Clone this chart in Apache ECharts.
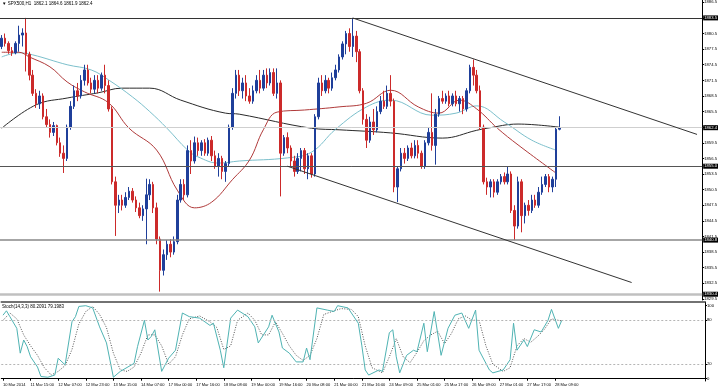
<!DOCTYPE html>
<html><head><meta charset="utf-8">
<script src="https://cdn.jsdelivr.net/npm/echarts@6/dist/echarts.min.js"></script>
<style>html,body{margin:0;padding:0;background:#fff}#c{width:720px;height:388px}</style>
</head><body><div id="c"></div>
<script>
const xTickLabels = ['10 Mar 2014','11 Mar 15:00','12 Mar 07:00','12 Mar 23:00','13 Mar 15:00','14 Mar 07:00','17 Mar 00:00','17 Mar 16:00','18 Mar 08:00','19 Mar 00:00','19 Mar 16:00','20 Mar 08:00','21 Mar 00:00','21 Mar 16:00','24 Mar 09:00','25 Mar 01:00','25 Mar 17:00','26 Mar 09:00','27 Mar 01:00','27 Mar 17:00','28 Mar 09:00'];
const priceTicks = [1829.5,1832.5,1835.5,1838.5,1841.5,1844.5,1847.5,1850.5,1853.5,1856.5,1859.5,1862.5,1865.5,1868.5,1871.5,1874.5,1877.5,1880.5,1883.5,1886.5];
const stochTicks = [0,20,80,100];
const stochLevels = [20,80];
const hLevels = [1883.5,1855.0,1840.8,1830.4];
const bidPrice = 1862.4;
const channelUpper = [[102,1883.48],[202,1861.11]];
const channelLower = [[83,1855.0],[183,1832.65]];
// candles: [open, close, low, high]
const candles = [
[1878.0,1879.6,1877.5,1880.2],[1879.6,1878.6,1878.0,1880.5],[1878.6,1877.2,1876.6,1879.0],[1877.2,1876.8,1876.2,1877.9],
[1876.8,1878.6,1876.5,1879.0],[1878.6,1880.2,1877.0,1882.0],[1880.2,1880.6,1878.0,1881.5],[1880.6,1876.5,1873.2,1883.5],
[1876.5,1872.5,1871.5,1877.0],[1872.5,1869.0,1868.5,1873.5],[1869.0,1867.0,1866.2,1869.8],[1867.0,1868.5,1866.0,1869.5],
[1868.5,1864.5,1864.0,1869.0],[1864.5,1863.0,1862.5,1866.0],[1863.0,1861.5,1860.5,1864.0],[1861.5,1862.8,1860.8,1863.5],
[1862.8,1859.5,1859.0,1863.0],[1859.5,1857.5,1856.8,1860.5],[1857.5,1856.5,1853.7,1859.0],[1856.5,1862.5,1856.0,1863.0],
[1862.5,1866.5,1862.0,1867.5],[1866.5,1869.5,1866.0,1870.5],[1869.5,1868.5,1867.5,1871.0],[1868.5,1871.5,1868.0,1872.5],
[1871.5,1873.5,1870.5,1874.5],[1873.5,1871.0,1870.5,1874.5],[1871.0,1869.8,1869.0,1872.0],[1869.8,1871.5,1869.0,1872.5],
[1871.5,1870.0,1869.0,1872.5],[1870.0,1872.5,1869.5,1873.0],[1872.5,1870.5,1869.0,1874.5],[1870.5,1866.0,1865.5,1871.5],
[1866.0,1852.0,1851.5,1866.5],[1852.0,1847.5,1841.6,1853.0],[1847.5,1848.5,1846.0,1849.5],[1848.5,1847.5,1846.5,1849.5],
[1847.5,1849.0,1847.0,1850.0],[1849.0,1850.2,1848.5,1851.0],[1850.2,1848.5,1848.0,1850.8],[1848.5,1847.0,1846.2,1849.2],
[1847.0,1845.5,1845.0,1848.0],[1845.5,1846.8,1844.5,1847.5],[1846.8,1849.5,1840.0,1852.6],[1849.5,1851.5,1848.5,1852.5],
[1851.5,1847.0,1846.0,1852.0],[1847.0,1841.0,1840.0,1848.0],[1841.0,1835.0,1830.9,1841.5],[1835.0,1838.0,1834.0,1839.0],
[1838.0,1840.0,1837.0,1840.8],[1840.0,1838.5,1837.5,1841.0],[1838.5,1840.5,1838.0,1841.5],[1840.5,1848.5,1840.0,1849.5],
[1848.5,1851.5,1848.0,1852.5],[1851.5,1849.5,1848.5,1852.5],[1849.5,1858.0,1849.0,1859.0],[1858.0,1856.0,1853.5,1860.0],
[1856.0,1859.5,1855.5,1860.7],[1859.5,1858.0,1857.0,1860.5],[1858.0,1859.5,1857.0,1860.0],[1859.5,1857.5,1857.0,1860.2],
[1857.5,1860.0,1857.0,1860.5],[1860.0,1857.0,1856.0,1860.8],[1857.0,1855.0,1854.5,1858.0],[1855.0,1856.5,1853.0,1857.5],
[1856.5,1854.0,1852.5,1857.0],[1854.0,1855.5,1852.0,1856.0],[1855.5,1862.5,1855.0,1863.0],[1862.5,1869.0,1862.0,1870.0],
[1869.0,1872.5,1868.0,1873.5],[1872.5,1869.5,1868.5,1873.5],[1869.5,1871.0,1868.0,1872.0],[1871.0,1868.5,1867.5,1872.5],
[1868.5,1867.5,1867.0,1870.0],[1867.5,1869.5,1867.0,1870.5],[1869.5,1871.5,1869.0,1872.5],[1871.5,1870.0,1869.0,1873.5],
[1870.0,1872.5,1869.5,1873.5],[1872.5,1871.0,1870.0,1873.8],[1871.0,1873.0,1870.5,1873.8],[1873.0,1869.0,1868.5,1873.8],
[1869.0,1871.0,1868.0,1873.8],[1871.0,1857.5,1849.2,1871.5],[1857.5,1860.5,1857.0,1861.0],[1860.5,1858.5,1857.5,1861.5],
[1858.5,1856.0,1855.0,1859.0],[1856.0,1854.0,1853.0,1857.0],[1854.0,1856.5,1853.5,1857.5],[1856.5,1858.0,1854.0,1858.5],
[1858.0,1854.5,1853.5,1858.5],[1854.5,1857.0,1852.5,1857.5],[1857.0,1853.5,1852.8,1857.5],[1853.5,1864.5,1853.0,1865.0],
[1864.5,1871.0,1864.0,1872.0],[1871.0,1869.5,1868.5,1872.5],[1869.5,1871.5,1869.0,1872.5],[1871.5,1870.0,1869.0,1872.0],
[1870.0,1872.0,1869.5,1873.0],[1872.0,1873.5,1871.5,1874.5],[1873.5,1876.0,1873.0,1876.5],[1876.0,1878.5,1875.5,1879.0],
[1878.5,1880.5,1876.5,1881.0],[1880.5,1878.0,1877.0,1881.5],[1878.0,1880.0,1876.0,1883.5],[1880.0,1877.0,1875.0,1881.0],
[1877.0,1869.5,1869.0,1877.5],[1869.5,1864.0,1863.0,1870.0],[1864.0,1860.0,1858.5,1865.0],[1860.0,1863.5,1859.5,1864.5],
[1863.5,1862.0,1861.0,1866.0],[1862.0,1865.5,1861.5,1866.5],[1865.5,1867.5,1865.0,1868.5],[1867.5,1866.5,1866.0,1869.5],
[1866.5,1869.0,1866.0,1870.5],[1869.0,1867.5,1866.5,1872.5],[1867.5,1851.0,1850.0,1868.0],[1851.0,1854.5,1848.1,1855.0],
[1854.5,1857.5,1854.0,1858.5],[1857.5,1856.5,1855.5,1858.5],[1856.5,1858.5,1856.0,1859.0],[1858.5,1857.0,1856.5,1859.5],
[1857.0,1859.0,1856.5,1860.0],[1859.0,1857.5,1856.5,1860.0],[1857.5,1855.0,1854.5,1858.0],[1855.0,1859.5,1854.5,1860.0],
[1859.5,1861.5,1859.0,1862.5],[1861.5,1859.0,1858.0,1869.0],[1859.0,1865.0,1855.3,1866.0],[1865.0,1868.0,1864.5,1868.5],
[1868.0,1867.5,1867.0,1869.5],[1867.5,1868.5,1867.0,1869.0],[1868.5,1867.0,1866.5,1869.5],[1867.0,1868.5,1866.5,1869.0],
[1868.5,1867.0,1866.5,1869.5],[1867.0,1868.0,1865.5,1868.5],[1868.0,1866.0,1865.0,1868.5],[1866.0,1869.5,1865.5,1870.0],
[1869.5,1874.0,1869.0,1874.5],[1874.0,1872.5,1870.5,1875.5],[1872.5,1869.5,1869.0,1873.5],[1869.5,1862.5,1862.0,1870.5],
[1862.5,1852.0,1851.5,1863.0],[1852.0,1851.0,1849.5,1852.8],[1851.0,1852.0,1849.0,1852.5],[1852.0,1850.0,1849.0,1852.5],
[1850.0,1852.0,1849.5,1852.5],[1852.0,1853.0,1851.5,1853.5],[1853.0,1852.0,1851.5,1853.8],[1852.0,1853.5,1851.5,1855.0],
[1853.5,1846.5,1846.0,1854.0],[1846.5,1843.5,1840.8,1847.5],[1843.5,1852.0,1843.0,1853.0],[1852.0,1845.5,1842.3,1852.5],
[1845.5,1847.5,1844.0,1848.0],[1847.5,1846.5,1845.5,1848.5],[1846.5,1848.5,1846.0,1849.5],[1848.5,1847.5,1847.0,1849.5],
[1847.5,1850.0,1847.0,1851.0],[1850.0,1851.5,1849.5,1853.0],[1851.5,1853.0,1851.0,1853.5],[1853.0,1851.0,1850.0,1853.5],
[1851.0,1852.5,1850.0,1853.0],[1852.5,1862.1,1851.0,1862.5],[1862.1,1862.4,1861.9,1864.6]
];
// moving averages read at points: [bar index, value]
const maBlack = [[0,1862.3],[10,1866.8],[19,1868.1],[28,1869.1],[35,1870.0],[43,1870.0],[52,1867.7],[65,1865.2],[69,1865.0],[90,1862.3],[98,1862.0],[113,1861.4],[128,1860.4],[138,1861.9],[141,1862.3],[150,1863.1],[162,1862.5]];
const maTeal = [[0,1876.0],[5,1876.8],[9,1876.4],[19,1874.5],[26,1873.5],[31,1871.6],[38,1868.3],[43,1865.5],[48,1862.3],[54,1858.1],[57,1856.8],[63,1855.6],[69,1856.0],[83,1856.6],[90,1857.7],[97,1862.1],[106,1866.4],[113,1867.7],[125,1864.8],[132,1865.2],[138,1866.6],[146,1863.5],[154,1860.0],[161,1858.1]];
const maRed = [[0,1876.9],[5,1876.9],[8,1876.0],[14,1874.1],[19,1871.2],[24,1869.3],[31,1867.2],[37,1862.3],[45,1858.1],[51,1850.4],[56,1847.0],[61,1848.1],[67,1852.4],[72,1856.2],[76,1862.0],[80,1865.4],[88,1865.8],[98,1866.4],[106,1867.1],[113,1869.6],[121,1866.4],[127,1865.2],[133,1867.7],[138,1866.0],[144,1862.3],[150,1859.1],[161,1853.7]];
const stochMain = [[0,87],[1,93],[2,85],[4,69],[5,35],[6,53],[7,44],[8,30],[10,16],[11,3],[13,2],[15,5],[16,28],[18,19],[20,78],[21,85],[22,99],[24,100],[26,97],[28,71],[30,49],[32,2],[34,10],[38,21],[39,44],[41,80],[42,53],[43,58],[44,67],[46,10],[48,28],[50,39],[52,90],[54,85],[57,83],[60,73],[61,76],[63,39],[64,15],[66,83],[68,94],[71,85],[73,71],[74,49],[77,71],[78,87],[80,64],[81,42],[83,35],[85,23],[87,23],[88,42],[89,26],[91,97],[94,94],[96,92],[97,100],[100,97],[103,76],[104,46],[105,12],[106,5],[109,12],[110,10],[112,63],[113,67],[114,30],[115,8],[117,32],[119,39],[120,37],[122,76],[123,37],[125,92],[127,32],[129,69],[131,87],[133,90],[135,69],[137,94],[138,39],[141,12],[142,8],[145,12],[147,26],[148,76],[149,39],[151,53],[152,44],[154,67],[156,64],[158,80],[159,95],[161,69],[162,80.2]];
const stochSignal = [[0,80],[2,90],[4,82],[6,60],[8,45],[10,32],[12,15],[14,5],[16,10],[18,18],[20,40],[22,75],[24,92],[26,99],[28,88],[30,70],[32,35],[34,12],[36,10],[38,16],[40,35],[42,60],[44,60],[46,45],[48,20],[50,30],[52,60],[54,82],[57,86],[60,78],[62,70],[64,40],[66,45],[68,80],[71,90],[73,80],[75,60],[77,60],[79,78],[81,62],[83,45],[85,32],[87,25],[89,32],[91,55],[93,88],[96,93],[98,96],[101,95],[103,85],[105,45],[107,15],[110,8],[112,30],[114,55],[116,30],[118,22],[120,36],[122,52],[124,60],[126,65],[128,48],[130,62],[132,82],[134,86],[136,80],[138,80],[140,45],[142,20],[145,10],[147,15],[149,45],[151,55],[153,50],[155,58],[157,68],[159,82],[161,80],[162,79.2]];

const N_CAT = 204;
const cats = Array.from({length: N_CAT}, (_, i) => String(i));
const FONT = 'Liberation Sans';
const tickShown = i => i % 8 === 0 && i / 8 < xTickLabels.length;

const boxLabel = {show:true, position:'end', distance:1, formatter: p => Number(p.value).toFixed(1),
  backgroundColor:'#000', color:'#fff', fontSize:4.2, fontFamily:FONT, padding:[1,1,0,1]};
const hLineColors = ['#333','#555','#888','#c0c0c0'];
const hLineWidths = [1,1,1.5,2.5];
const markData = hLevels.map((v, k) => ({yAxis: v, lineStyle:{color:hLineColors[k], width:hLineWidths[k], type:'solid'}, label: boxLabel}));
markData.push({yAxis: bidPrice, lineStyle:{color:'#cfcfcf', width:1, type:'solid'}, label: boxLabel});
[channelUpper, channelLower].forEach(c => markData.push([
  {coord: c[0], lineStyle:{color:'#333', width:1, type:'solid'}, label:{show:false}},
  {coord: c[1]}
]));

const chart = echarts.init(document.getElementById('c'), null, {renderer:'canvas'});
chart.setOption({
  animation:false,
  backgroundColor:'#fff',
  textStyle:{fontFamily:FONT},
  title:[
    {text:'\u25BC SPX500,H1  1862.1 1864.6 1861.9 1862.4', left:2, top:1, padding:0, textStyle:{fontSize:4.5, fontWeight:'normal', color:'#000', fontFamily:FONT}},
    {text:'Stoch(14,3,3) 80.2091 79.1983', left:2, top:304, padding:0, textStyle:{fontSize:4.5, fontWeight:'normal', color:'#000', fontFamily:FONT}}
  ],
  grid:[
    {left:0, right:15, top:0, height:300},
    {left:0, right:15, top:302, height:79}
  ],
  xAxis:[
    {gridIndex:0, type:'category', data:cats, boundaryGap:true, show:false},
    {gridIndex:1, type:'category', data:cats, boundaryGap:true,
      axisLine:{show:true, lineStyle:{color:'#000', width:1}},
      axisTick:{show:true, alignWithLabel:true, interval:(i)=>tickShown(i), length:2, lineStyle:{color:'#000'}},
      axisLabel:{interval:(i)=>tickShown(i), formatter:(v,i)=> tickShown(i) ? xTickLabels[i/8] : '', fontSize:4, color:'#000', align:'left', margin:2, fontFamily:FONT},
      splitLine:{show:false}},
    {gridIndex:1, type:'category', data:cats, position:'top', boundaryGap:true,
      axisLine:{show:true, lineStyle:{color:'#444', width:1.5}}, axisTick:{show:false}, axisLabel:{show:false}}
  ],
  yAxis:[
    {gridIndex:0, type:'value', position:'right', min:1829.29, max:1886.94, scale:true,
      axisLine:{show:true, lineStyle:{color:'#000'}},
      axisTick:{show:true, customValues:priceTicks, length:2, lineStyle:{color:'#000'}},
      axisLabel:{customValues:priceTicks, formatter:v=>Number(v).toFixed(1), fontSize:4.2, color:'#000', margin:2, fontFamily:FONT},
      splitLine:{show:false}},
    {gridIndex:1, type:'value', position:'right', min:-3.15, max:105.07,
      axisLine:{show:true, lineStyle:{color:'#000'}},
      axisTick:{show:true, customValues:stochTicks, length:2, lineStyle:{color:'#000'}},
      axisLabel:{customValues:stochTicks, fontSize:4.2, color:'#000', margin:2, fontFamily:FONT},
      splitLine:{show:false}}
  ],
  series:[
    {type:'line', name:'MA slow', xAxisIndex:0, yAxisIndex:0, data:maBlack, showSymbol:false, smooth:0.4, z:1,
      lineStyle:{color:'#2a2a2a', width:1}},
    {type:'line', name:'MA mid', xAxisIndex:0, yAxisIndex:0, data:maTeal, showSymbol:false, smooth:0.4, z:1,
      lineStyle:{color:'#7cc0cc', width:1}},
    {type:'line', name:'MA fast', xAxisIndex:0, yAxisIndex:0, data:maRed, showSymbol:false, smooth:0.4, z:1,
      lineStyle:{color:'#b03a3a', width:1}},
    {type:'candlestick', name:'SPX500', xAxisIndex:0, yAxisIndex:0, data:candles, barWidth:2, z:3,
      itemStyle:{color:'#1f3f9a', color0:'#cc2a2a', borderColor:'#1f3f9a', borderColor0:'#cc2a2a', borderWidth:1},
      markLine:{silent:true, symbol:['none','none'], animation:false, data:markData}},
    {type:'line', name:'Signal', xAxisIndex:1, yAxisIndex:1, data:stochSignal, showSymbol:false, z:2,
      lineStyle:{color:'#555', width:1, type:[1,1.5]},
      markLine:{silent:true, symbol:['none','none'], label:{show:false},
        lineStyle:{color:'#b5b5b5', width:1, type:[2,2]}, data: stochLevels.map(v => ({yAxis:v}))}},
    {type:'line', name:'Main', xAxisIndex:1, yAxisIndex:1, data:stochMain, showSymbol:false, z:3,
      lineStyle:{color:'#4fb3b3', width:1}}
  ]
});
</script></body></html>
